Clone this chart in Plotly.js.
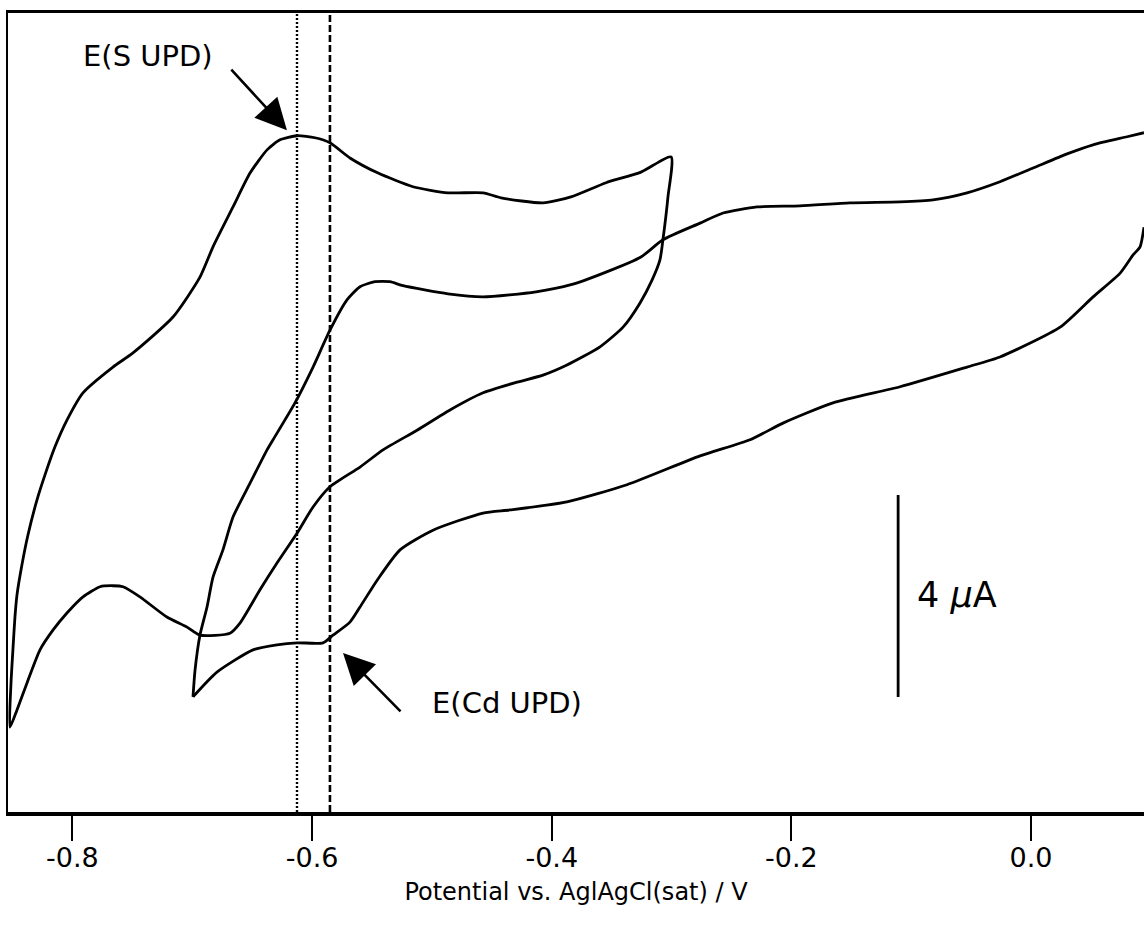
<!DOCTYPE html>
<html>
<head>
<meta charset="utf-8">
<script src="https://cdn.plot.ly/plotly-3.0.1.min.js"></script>
<style>html,body{margin:0;padding:0;background:#fff;}#chart{width:1144px;height:932px;}</style>
</head>
<body>
<div id="chart"></div>
<script>
// CV 1: -0.85 V to -0.30 V (potential in V, current in µA, arbitrary offset)
const cv1_E = [-0.3004,-0.3255,-0.3547,-0.3839,-0.4073,-0.4423,-0.4573,-0.4866,-0.5158,-0.5449,-0.5684,-0.5851,-0.5976,-0.6126,-0.6268,-0.6376,-0.6518,-0.6660,-0.6827,-0.6936,-0.7161,-0.7495,-0.7662,-0.7912,-0.8046,-0.8146,-0.8230,-0.8296,-0.8371,-0.8422,-0.8463,-0.8480,-0.8497,-0.8513,-0.8522,
  -0.8463,-0.8380,-0.8271,-0.8163,-0.8046,-0.7912,-0.7770,-0.7662,-0.7578,-0.7437,-0.7212,-0.7044,-0.6936,-0.6685,-0.6602,-0.6435,-0.6293,-0.6126,-0.5992,-0.5851,-0.5600,-0.5408,-0.5124,-0.4849,-0.4573,-0.4290,-0.4073,-0.3873,-0.3597,-0.3405,-0.3263,-0.3163,-0.3097,-0.3072,-0.3030,-0.3004];
const cv1_I = [12.97,12.67,12.46,12.18,12.06,12.16,12.26,12.26,12.38,12.65,12.95,13.25,13.35,13.39,13.31,13.11,12.65,11.98,11.19,10.59,9.80,9.09,8.81,8.30,7.76,7.23,6.67,6.18,5.49,4.89,4.30,3.86,3.21,2.55,1.68,
  2.02,2.55,3.21,3.60,3.94,4.26,4.46,4.48,4.46,4.26,3.86,3.66,3.50,3.54,3.74,4.40,4.93,5.52,6.04,6.44,6.83,7.17,7.56,7.96,8.30,8.51,8.65,8.85,9.21,9.60,10.08,10.53,10.93,11.33,12.18,12.97];

// CV 2: -0.70 V to beyond +0.09 V, positive-going sweep
const cv2up_E = [-0.6994,-0.6977,-0.6936,-0.6877,-0.6827,-0.6744,-0.6660,-0.6518,-0.6376,-0.6326,-0.6143,-0.5992,-0.5851,-0.5709,-0.5600,-0.5475,-0.5350,-0.5241,-0.4866,-0.4573,-0.4131,-0.3839,-0.3547,-0.3255,-0.3072,-0.2762,-0.2570,-0.2287,-0.1928,-0.1511,-0.1093,-0.0818,-0.0534,-0.0259,0.0017,0.0301,0.0518,0.0802,0.0943];
const cv2up_I = [2.28,2.81,3.50,4.06,4.65,5.19,5.84,6.51,7.17,7.37,8.10,8.81,9.54,10.14,10.40,10.50,10.50,10.42,10.26,10.20,10.30,10.44,10.69,10.99,11.33,11.66,11.86,11.98,12.00,12.06,12.08,12.12,12.26,12.48,12.75,13.03,13.21,13.37,13.45];
// CV 2: negative-going sweep
const cv2down_E = [0.0943,0.0910,0.0852,0.0744,0.0518,0.0243,-0.0259,-0.0534,-0.1093,-0.1653,-0.2070,-0.2345,-0.2762,-0.3372,-0.3873,-0.4348,-0.4573,-0.4991,-0.5266,-0.5457,-0.5600,-0.5684,-0.5826,-0.5909,-0.6126,-0.6293,-0.6493,-0.6794,-0.6994];
const cv2down_I = [11.58,11.19,11.03,10.67,10.20,9.60,9.01,8.81,8.42,8.10,7.70,7.37,7.05,6.48,6.14,5.98,5.92,5.58,5.19,4.59,4.06,3.76,3.50,3.35,3.35,3.31,3.21,2.77,2.28];

// UPD potentials (V) marked by vertical lines
const updPotentials = [-0.6126, -0.5851];
const updLabels = ["E(S UPD)", "E(Cd UPD)"];
// scale bar
const scaleBarLength = 4; // µA
const scaleBarLabel = "4 <i>µ</i>A";
// tick labels
const tickVals = [-0.8, -0.6, -0.4, -0.2, 0.0];
const tickText = ["-0.8", "-0.6", "-0.4", "-0.2", "0.0"];
const xTitle = "Potential vs. AglAgCl(sat) / V";

const lineStyle = {color: "#000", width: 2.8, shape: "spline", smoothing: 0.6};
const traces = [
  {x: cv1_E, y: cv1_I, mode: "lines", line: lineStyle, hoverinfo: "skip"},
  {x: cv2up_E, y: cv2up_I, mode: "lines", line: lineStyle, hoverinfo: "skip"},
  {x: cv2down_E, y: cv2down_I, mode: "lines", line: lineStyle, hoverinfo: "skip"},
  {x: [-0.1109, -0.1109], y: [2.277, 2.277 + scaleBarLength], mode: "lines", line: {color: "#000", width: 2.8}, hoverinfo: "skip"}
];

const font = "DejaVu Sans, Verdana, sans-serif";
const layout = {
  width: 1144, height: 932,
  margin: {l: 8, r: 0, t: 13, b: 120},
  paper_bgcolor: "#fff", plot_bgcolor: "#fff",
  showlegend: false,
  font: {family: font, color: "#000"},
  xaxis: {
    range: [-0.8538, 0.0943],
    showgrid: false, zeroline: false,
    showline: true, linewidth: 3.5, linecolor: "#000", mirror: true,
    ticks: "outside", ticklen: 25, tickwidth: 2, tickcolor: "#000",
    tickvals: tickVals, ticktext: tickText,
    tickfont: {size: 27, family: font},
    ticklabelstandoff: -6,
    title: {text: xTitle, font: {size: 24, family: font}, standoff: 12}
  },
  yaxis: {
    range: [0, 15.82],
    showgrid: false, zeroline: false,
    showline: true, linewidth: 2.5, linecolor: "#000",
    ticks: "", showticklabels: false
  },
  shapes: [
    {type: "line", xref: "x", yref: "paper", x0: updPotentials[0], x1: updPotentials[0], y0: 0, y1: 1, line: {color: "#000", width: 2.4, dash: "2px,2px"}},
    {type: "line", xref: "x", yref: "paper", x0: updPotentials[1], x1: updPotentials[1], y0: 0, y1: 1, line: {color: "#000", width: 2.6, dash: "7px,3px"}}
  ],
  annotations: [
    {x: -0.6210, y: 13.50, ax: -57, ay: -62, showarrow: true, arrowhead: 2, arrowsize: 2.4, arrowwidth: 2.6, arrowcolor: "#000", text: "", standoff: 0},
    {x: -0.737, y: 14.97, text: updLabels[0], showarrow: false, font: {size: 29, family: font}},
    {x: -0.5742, y: 3.15, ax: 59, ay: 60, showarrow: true, arrowhead: 2, arrowsize: 2.4, arrowwidth: 2.6, arrowcolor: "#000", text: "", standoff: 0},
    {x: -0.4373, y: 2.16, text: updLabels[1], showarrow: false, font: {size: 29, family: font}},
    {x: -0.097, y: 4.30, xanchor: "left", text: scaleBarLabel, showarrow: false, font: {size: 35, family: font}}
  ]
};

Plotly.newPlot("chart", traces, layout, {staticPlot: true, displayModeBar: false});
</script>
</body>
</html>
